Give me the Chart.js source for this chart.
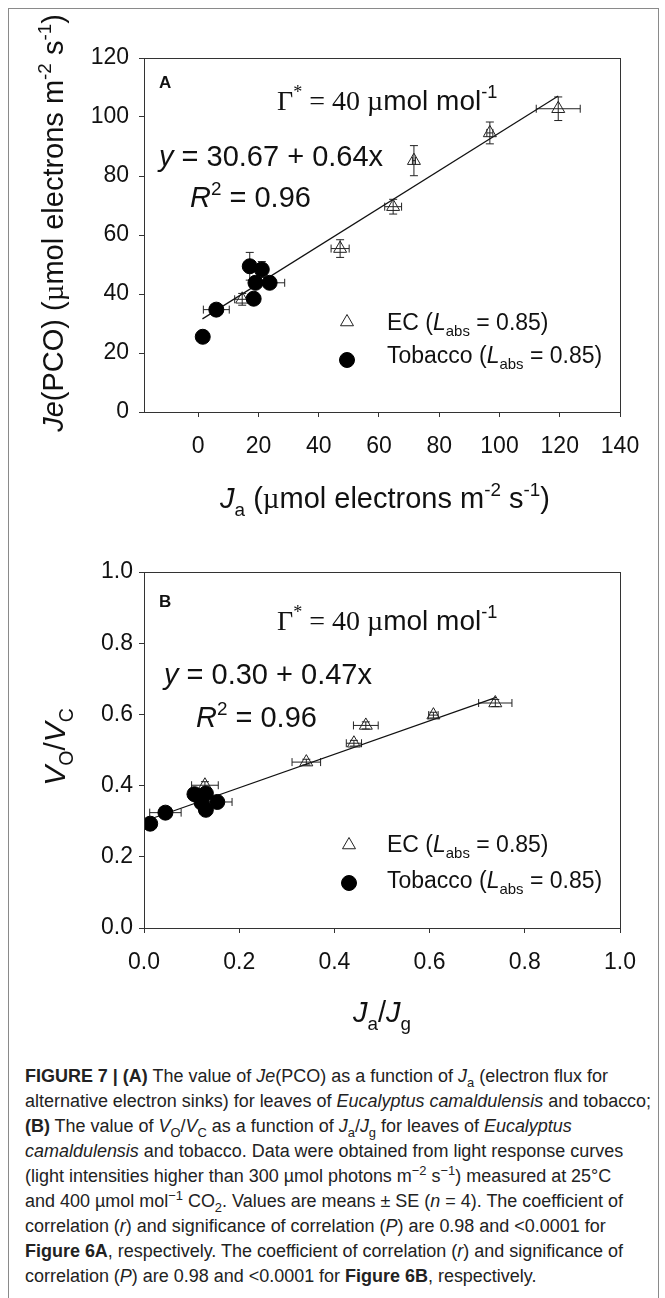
<!DOCTYPE html>
<html><head><meta charset="utf-8">
<script src="https://cdn.jsdelivr.net/npm/chart.js@4.4.1/dist/chart.umd.min.js"></script>
<style>
html,body{margin:0;padding:0;background:#fff;width:665px;height:1298px;overflow:hidden;position:relative;}
#frame{position:absolute;left:8px;top:8px;width:651px;height:1300px;border:1px solid #8a8a8a;box-sizing:border-box;}
canvas{position:absolute;left:0;}
#cA{top:0}
#cB{top:540px}
#cap{position:absolute;left:25px;top:1064px;font-family:'Liberation Sans',Arial,sans-serif;font-size:18px;line-height:25px;color:#222;white-space:nowrap;transform-origin:0 0;}
#cap sub,#cap sup{font-size:0.72em;line-height:0;}
#cap span{display:inline-block;}
</style></head>
<body>
<div id="frame"></div>
<canvas id="cA" width="665" height="540"></canvas>
<canvas id="cB" width="665" height="520"></canvas>
<div id="cap">
<span><b>FIGURE 7 | (A)</b> The value of <i>Je</i>(PCO) as a function of <i>J</i><sub>a</sub> (electron flux for</span><br>
<span>alternative electron sinks) for leaves of <i>Eucalyptus camaldulensis</i> and tobacco;</span><br>
<span><b>(B)</b> The value of <i>V</i><sub>O</sub>/<i>V</i><sub>C</sub> as a function of <i>J</i><sub>a</sub>/<i>J</i><sub>g</sub> for leaves of <i>Eucalyptus</i></span><br>
<span><i>camaldulensis</i> and tobacco. Data were obtained from light response curves</span><br>
<span>(light intensities higher than 300 µmol photons m<sup>−2</sup> s<sup>−1</sup>) measured at 25°C</span><br>
<span>and 400 µmol mol<sup>−1</sup> CO<sub>2</sub>. Values are means ± SE (<i>n</i> = 4). The coefficient of</span><br>
<span>correlation (<i>r</i>) and significance of correlation (<i>P</i>) are 0.98 and &lt;0.0001 for</span><br>
<span><b>Figure 6A</b>, respectively. The coefficient of correlation (<i>r</i>) and significance of</span><br>
<span>correlation (<i>P</i>) are 0.98 and &lt;0.0001 for <b>Figure 6B</b>, respectively.</span>
</div>
<script>
// ---------- DATA ----------
const xTicksA = [0, 20, 40, 60, 80, 100, 120, 140];
const yTicksA = [0, 20, 40, 60, 80, 100, 120];
const xTicksB = [0, 0.2, 0.4, 0.6, 0.8, 1.0];
const yTicksB = [0, 0.2, 0.4, 0.6, 0.8, 1.0];

// Panel A: Je(PCO) vs Ja
const ecAx    = [14.6, 47.1, 64.7, 71.6, 96.8, 119.5];
const ecAy    = [38.2, 55.4, 69.6, 85.2, 94.6, 102.8];
const ecAxErr = [2.5, 3.0, 2.8, 0.5, 1.0, 7.3];
const ecAyErr = [2.0, 3.0, 2.5, 5.1, 3.7, 4.0];
const tobAx    = [1.5, 6.0, 17.1, 21.1, 19.0, 23.7, 18.4];
const tobAy    = [25.5, 34.7, 49.4, 48.3, 43.8, 43.8, 38.4];
const tobAxErr = [0.5, 4.3, 1.0, 1.0, 1.5, 5.0, 1.0];
const tobAyErr = [1.0, 1.0, 4.7, 2.7, 1.5, 1.5, 1.5];
const fitAx   = [1.4, 119.5];
const fitAcoef = [30.67, 0.64];

// Panel B: Vo/Vc vs Ja/Jg
const ecBx    = [0.128, 0.341, 0.441, 0.466, 0.608, 0.738];
const ecBy    = [0.401, 0.466, 0.519, 0.569, 0.598, 0.632];
const ecBxErr = [0.028, 0.030, 0.016, 0.026, 0.010, 0.035];
const ecByErr = [0.010, 0.008, 0.008, 0.010, 0.008, 0.010];
const tobBx    = [0.013, 0.045, 0.106, 0.130, 0.121, 0.130, 0.154];
const tobBy    = [0.293, 0.324, 0.376, 0.378, 0.352, 0.332, 0.354];
const tobBxErr = [0.005, 0.033, 0.010, 0.010, 0.010, 0.010, 0.031];
const tobByErr = [0.010, 0.010, 0.010, 0.010, 0.010, 0.010, 0.010];
const fitBx   = [0.012, 0.74];
const fitBcoef = [0.30, 0.47];

const seriesNames = ['EC', 'Tobacco'];

// ---------- HELPERS ----------
const SANS = "'Liberation Sans', Arial, sans-serif";
const SERIF = "'Liberation Serif', 'Times New Roman', serif";
function drawRich(ctx, x, y, parts, size, align, rot) {
  const segs = parts.map(([t, s = '']) => {
    const st = s.split(' ');
    const small = st.includes('sub') || st.includes('sup');
    const fs = small ? size * 0.65 : size;
    const fam = st.includes('serif') ? SERIF : SANS;
    const font = (st.includes('i') ? 'italic ' : '') + (st.includes('b') ? 'bold ' : '') + fs + 'px ' + fam;
    ctx.font = font;
    const w = ctx.measureText(t).width;
    const dy = st.includes('sub') ? size * 0.28 : st.includes('sup') ? -size * 0.42 : 0;
    return { t, font, w, dy };
  });
  const total = segs.reduce((a, s) => a + s.w, 0);
  ctx.save();
  ctx.translate(x, y);
  if (rot) ctx.rotate(rot);
  let cx = align === 'center' ? -total / 2 : align === 'right' ? -total : 0;
  ctx.fillStyle = '#111';
  ctx.textBaseline = 'alphabetic';
  ctx.textAlign = 'left';
  for (const s of segs) { ctx.font = s.font; ctx.fillText(s.t, cx, s.dy); cx += s.w; }
  ctx.restore();
}

const errPlugin = {
  id: 'errbars',
  beforeDatasetsDraw(chart) {
    const ctx = chart.ctx, xs = chart.scales.x, ys = chart.scales.y;
    ctx.save();
    ctx.strokeStyle = '#222';
    ctx.lineWidth = 1;
    chart.data.datasets.forEach(ds => {
      if (!ds.errX) return;
      ds.data.forEach((p, i) => {
        const px = xs.getPixelForValue(p.x), py = ys.getPixelForValue(p.y);
        const x1 = xs.getPixelForValue(p.x - ds.errX[i]), x2 = xs.getPixelForValue(p.x + ds.errX[i]);
        const y1 = ys.getPixelForValue(p.y - ds.errY[i]), y2 = ys.getPixelForValue(p.y + ds.errY[i]);
        const c = 4;
        ctx.beginPath();
        ctx.moveTo(x1, py); ctx.lineTo(x2, py);
        ctx.moveTo(x1, py - c); ctx.lineTo(x1, py + c);
        ctx.moveTo(x2, py - c); ctx.lineTo(x2, py + c);
        ctx.moveTo(px, y1); ctx.lineTo(px, y2);
        ctx.moveTo(px - c, y1); ctx.lineTo(px + c, y1);
        ctx.moveTo(px - c, y2); ctx.lineTo(px + c, y2);
        ctx.stroke();
      });
    });
    ctx.restore();
  }
};

const decoPlugin = {
  id: 'deco',
  afterDraw(chart, args, opts) {
    const ctx = chart.ctx, a = chart.chartArea;
    ctx.save();
    ctx.strokeStyle = '#333';
    ctx.lineWidth = 1;
    ctx.strokeRect(Math.round(a.left) + 0.5, Math.round(a.top) + 0.5, Math.round(a.right - a.left), Math.round(a.bottom - a.top));
    ctx.restore();
    (opts.texts || []).forEach(t => drawRich(ctx, t.x, t.y, t.parts, t.size, t.align, t.rot));
    (opts.legend || []).forEach(l => {
      const ds = chart.data.datasets[l.ds];
      ctx.save();
      ctx.fillStyle = ds.backgroundColor;
      ctx.strokeStyle = ds.borderColor;
      ctx.lineWidth = ds.borderWidth;
      Chart.helpers.drawPoint(ctx, { pointStyle: ds.pointStyle, radius: ds.pointRadius, rotation: 0, borderWidth: ds.borderWidth }, l.sx, l.sy);
      ctx.restore();
      drawRich(ctx, l.tx, l.ty, [[ds.label + ' ('], ['L', 'i'], ['abs', 'sub'], [' = 0.85)']], 23, 'left');
    });
  }
};

function mk(id, cfg) {
  const fmt = cfg.fmt;
  const fit = cfg.fitX.map(x => ({ x, y: cfg.fitCoef[0] + cfg.fitCoef[1] * x }));
  return new Chart(document.getElementById(id), {
    type: 'scatter',
    data: {
      datasets: [
        { label: seriesNames[0], data: cfg.ecX.map((x, i) => ({ x, y: cfg.ecY[i] })), errX: cfg.ecXE, errY: cfg.ecYE,
          pointStyle: 'triangle', pointRadius: 7.5, backgroundColor: 'rgba(255,255,255,0)', borderColor: '#222', borderWidth: 1, order: 1 },
        { label: seriesNames[1], data: cfg.tbX.map((x, i) => ({ x, y: cfg.tbY[i] })), errX: cfg.tbXE, errY: cfg.tbYE,
          pointStyle: 'circle', pointRadius: 7.5, backgroundColor: '#000', borderColor: '#000', borderWidth: 1, order: 0 },
        { label: 'fit', type: 'line', data: fit, showLine: true, borderColor: '#111', borderWidth: 1.2, pointRadius: 0, fill: false, order: 5 }
      ]
    },
    options: {
      responsive: false, animation: false, devicePixelRatio: 1,
      layout: { padding: { top: cfg.top, right: 45, bottom: 0, left: 0 } },
      plugins: { legend: { display: false }, tooltip: { enabled: false }, deco: { texts: cfg.texts, legend: cfg.legend } },
      scales: {
        x: {
          type: 'linear', min: cfg.xmin, max: cfg.xmax,
          afterBuildTicks: s => { s.ticks = cfg.xTicks.map(v => ({ value: v })); },
          afterFit: s => { s.height = cfg.xh; },
          grid: { display: true, drawOnChartArea: false, drawTicks: true, tickLength: 5, color: '#333' },
          border: { display: false },
          ticks: { autoSkip: false, maxRotation: 0, padding: 16, color: '#111', font: { size: 23, family: SANS }, callback: v => fmt(v) }
        },
        y: {
          type: 'linear', min: cfg.ymin, max: cfg.ymax,
          afterBuildTicks: s => { s.ticks = cfg.yTicks.map(v => ({ value: v })); },
          afterFit: s => { s.width = 144; },
          grid: { display: true, drawOnChartArea: false, drawTicks: true, tickLength: 5, color: '#333' },
          border: { display: false },
          ticks: { autoSkip: false, padding: cfg.ypad, color: '#111', font: { size: 23, family: SANS }, callback: v => fmt(v) }
        }
      }
    },
    plugins: [errPlugin, decoPlugin]
  });
}

const gammaParts = [['Γ', 'serif'], ['*', 'serif sup'], [' = 40 ', 'serif'], ['µ', 'serif'], ['mol mol', ''], ['-1', 'sup']];

mk('cA', {
  fmt: v => String(v), top: 58, xh: 128, ypad: 10,
  xmin: -18, xmax: 140, ymin: 0, ymax: 120, xTicks: xTicksA, yTicks: yTicksA,
  ecX: ecAx, ecY: ecAy, ecXE: ecAxErr, ecYE: ecAyErr, tbX: tobAx, tbY: tobAy, tbXE: tobAxErr, tbYE: tobAyErr,
  fitX: fitAx, fitCoef: fitAcoef,
  texts: [
    { x: 159, y: 88, parts: [['A', 'b']], size: 17 },
    { x: 277, y: 110, parts: gammaParts, size: 28 },
    { x: 159, y: 166, parts: [['y', 'i'], [' = 30.67 + 0.64x']], size: 29 },
    { x: 190, y: 207, parts: [['R', 'i'], ['2', 'sup'], [' = 0.96']], size: 29 },
    { x: 385, y: 508, parts: [['J', 'i'], ['a', 'sub'], [' ('], ['µ', 'serif'], ['mol electrons m'], ['-2', 'sup'], [' s'], ['-1', 'sup'], [')']], size: 29, align: 'center' },
    { x: 63, y: 223, parts: [['Je', 'i'], ['(PCO) ('], ['µ', 'serif'], ['mol electrons m'], ['-2', 'sup'], [' s'], ['-1', 'sup'], [')']], size: 29, align: 'center', rot: -Math.PI / 2 }
  ],
  legend: [{ ds: 0, sx: 347, sy: 322, tx: 387, ty: 330 }, { ds: 1, sx: 347, sy: 360, tx: 387, ty: 363 }]
});

mk('cB', {
  fmt: v => v.toFixed(1), top: 32, xh: 132, ypad: 6,
  xmin: 0, xmax: 1, ymin: 0, ymax: 1, xTicks: xTicksB, yTicks: yTicksB,
  ecX: ecBx, ecY: ecBy, ecXE: ecBxErr, ecYE: ecByErr, tbX: tobBx, tbY: tobBy, tbXE: tobBxErr, tbYE: tobByErr,
  fitX: fitBx, fitCoef: fitBcoef,
  texts: [
    { x: 159, y: 67, parts: [['B', 'b']], size: 17 },
    { x: 277, y: 90, parts: gammaParts, size: 28 },
    { x: 164, y: 144, parts: [['y', 'i'], [' = 0.30 + 0.47x']], size: 29 },
    { x: 196, y: 187, parts: [['R', 'i'], ['2', 'sup'], [' = 0.96']], size: 29 },
    { x: 382, y: 482, parts: [['J', 'i'], ['a', 'sub'], ['/'], ['J', 'i'], ['g', 'sub']], size: 29, align: 'center' },
    { x: 65, y: 207, parts: [['V', 'i'], ['O', 'sub'], ['/'], ['V', 'i'], ['C', 'sub']], size: 30, align: 'center', rot: -Math.PI / 2 }
  ],
  legend: [{ ds: 0, sx: 349, sy: 305, tx: 387, ty: 312 }, { ds: 1, sx: 349, sy: 343, tx: 387, ty: 348 }]
});

// caption: fit first line to its measured width in the figure
(function () {
  const cap = document.getElementById('cap');
  const first = cap.querySelector('span');
  const w = first.getBoundingClientRect().width;
  const s = 583 / w;
  cap.style.transform = 'scale(' + s + ',1)';
})();
</script>
</body></html>
